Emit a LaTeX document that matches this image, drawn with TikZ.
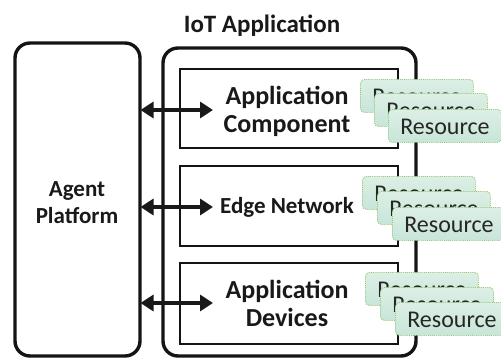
\documentclass[tikz,border=0pt]{standalone}
\usepackage{fontspec}
\setmainfont{Carlito}
\usetikzlibrary{arrows.meta}
\definecolor{resfill}{HTML}{C8E5DA}
\definecolor{resfilltop}{HTML}{DCEFE5}
\definecolor{resborder}{HTML}{98C874}
\definecolor{restext}{HTML}{262626}
\tikzset{
  x=1pt, y=-1pt,
  frame/.style={draw=black!92, line width=3.4pt, rounded corners=15pt},
  layerbox/.style={draw=black!92, line width=2.4pt, fill=white},
  lbl/.style={font=\fontsize{26}{30}\selectfont\bfseries, text=black!90, align=center},
  resbox/.style={draw=resborder, line width=0.9pt, densely dotted, rounded corners=4pt,
    top color=resfilltop, bottom color=resfill, minimum width=113pt, minimum height=33pt,
    anchor=north west, inner sep=0pt, text=restext, text height=17pt, text depth=0pt,
    font=\fontsize{24}{26}\selectfont},
  link/.style={line width=3.6pt, {Triangle[length=13pt,width=16pt]}-{Triangle[length=13pt,width=16pt]}, black!90},
}
\begin{document}
\begin{tikzpicture}
\useasboundingbox (0,0) rectangle (501,359);

% title
\node[font=\fontsize{25}{28}\selectfont\bfseries, text=black!90] (title) at (262,26) {IoT Application};

% agent platform column
\draw[frame] (15,43) rectangle (140,356);
\node[lbl, font=\fontsize{23}{28}\selectfont\bfseries] (agent) at (77,203) {Agent\\[-1pt]Platform};

% IoT application frame
\draw[frame] (163,48) rectangle (416,356);

% layers
\draw[layerbox] (180,69) rectangle (398,148);
\draw[layerbox] (180,166) rectangle (398,246);
\draw[layerbox] (180,263) rectangle (398,344);

\node[lbl] (comp) at (287,111) {Application\\[-2pt]Component};
\node[lbl, font=\fontsize{23}{28}\selectfont\bfseries] (edge) at (287,207) {Edge Network};
\node[lbl] (dev) at (287,303) {Application\\[-2pt]Devices};

% links between the platform and the layers
\coordinate (p1) at (140.5,110);
\coordinate (p2) at (140.5,207);
\coordinate (p3) at (140.5,303);
\coordinate (q1) at (213,110);
\coordinate (q2) at (213,207);
\coordinate (q3) at (213,303);
\draw[link] (p1) -- (q1);
\draw[link] (p2) -- (q2);
\draw[link] (p3) -- (q3);

% resource stacks
\node[resbox] (r1a) at (360,79) {Resource};
\node[resbox] (r1b) at (374,93) {Resource};
\node[resbox] (r1c) at (388,109) {Resource};

\node[resbox] (r2a) at (362,176) {Resource};
\node[resbox] (r2b) at (377,191) {Resource};
\node[resbox] (r2c) at (392,207) {Resource};

\node[resbox] (r3a) at (365,272) {Resource};
\node[resbox] (r3b) at (380,287) {Resource};
\node[resbox] (r3c) at (395,302) {Resource};
\end{tikzpicture}
\end{document}
